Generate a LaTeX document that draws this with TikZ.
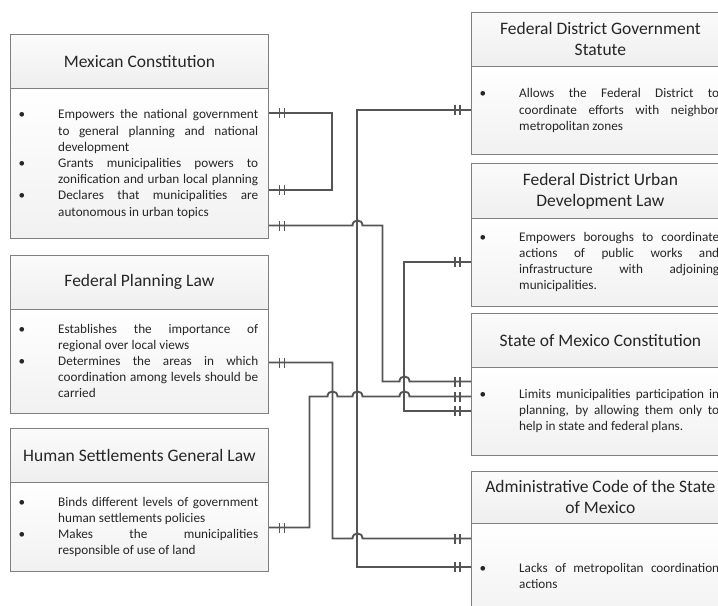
\documentclass[tikz,border=0pt]{standalone}
\usepackage{fontspec}
\setmainfont{Carlito}
\usetikzlibrary{decorations.markings}
\definecolor{linec}{HTML}{555555}
\definecolor{boxc}{HTML}{808080}
\definecolor{txtc}{HTML}{262626}
\newcommand\Bj[1]{\hbox{\hbox to 48bp{\hskip 8.5bp\textbullet\hfil}\hbox to 200bp{#1}}}
\newcommand\Bl[1]{\hbox{\hbox to 48bp{\hskip 8.5bp\textbullet\hfil}\hbox to 200bp{#1\hfil}}}
\newcommand\Nj[1]{\hbox{\hskip 48bp\hbox to 200bp{#1}}}
\newcommand\Nl[1]{\hbox{\hskip 48bp\hbox to 200bp{#1\hfil}}}
\begin{document}
\begin{tikzpicture}[x=1bp,y=-1bp,
  hdr/.style={draw=boxc, line width=0.8bp, top color=gray!3, bottom color=gray!13,
    minimum width=258bp, inner sep=0pt, anchor=north west,
    font=\fontsize{17.5bp}{21bp}\selectfont, align=center, text=txtc},
  bodybox/.style={draw=boxc, line width=0.8bp, top color=white, bottom color=gray!11,
    minimum width=258bp, inner sep=0pt, anchor=north west},
  txt/.style={anchor=base west, inner sep=0pt, font=\fontsize{13.2bp}{16.2bp}\selectfont, text=txtc},
  tick/.style={draw=linec, line width=1.3bp},
  rel/.style={draw=linec, line width=1.5bp, postaction={decorate},
    decoration={markings,
      mark=at position 11bp with {\draw[tick] (0,-5bp) -- (0,5bp);},
      mark=at position 16bp with {\draw[tick] (0,-5bp) -- (0,5bp);},
      mark=at position -16bp with {\draw[tick] (0,-5bp) -- (0,5bp);},
      mark=at position -11bp with {\draw[tick] (0,-5bp) -- (0,5bp);}}},
  relc/.style={rel, line width=1.9bp}
]
\useasboundingbox (0,0) rectangle (718,606);
\clip (0,0) rectangle (718,606);

% ---------- left boxes ----------
\node[hdr, minimum height=54bp] (mch) at (10,34) {Mexican Constitution};
\node[bodybox, minimum height=150bp] (mc) at (10,88) {};
\node[txt] (mct) at (10,119) {\vtop{%
  \Bj{Empowers the national government}
  \Nj{to general planning and national}
  \Nl{development}
  \Bj{Grants municipalities powers to}
  \Nj{zonification and urban local planning}
  \Bj{Declares that municipalities are}
  \Nl{autonomous in urban topics}}};

\node[hdr, minimum height=54bp] (fplh) at (10,255) {Federal Planning Law};
\node[bodybox, minimum height=104bp] (fpl) at (10,309) {};
\node[txt] (fplt) at (10,333) {\vtop{%
  \Bj{Establishes the importance of}
  \Nl{regional over local views}
  \Bj{Determines the areas in which}
  \Nj{coordination among levels should be}
  \Nl{carried}}};

\node[hdr, minimum height=54bp] (hsh) at (10,428) {Human Settlements General Law};
\node[bodybox, minimum height=89bp] (hs) at (10,482) {};
\node[txt] (hst) at (10,506) {\vtop{%
  \Bj{Binds different levels of government}
  \Nl{human settlements policies}
  \Bj{Makes the municipalities}
  \Nl{responsible of use of land}}};

% ---------- right boxes ----------
\node[hdr, minimum height=54bp] (r1h) at (471,12) {Federal District Government\\Statute};
\node[bodybox, minimum height=88bp] (r1) at (471,66) {};
\node[txt] (r1t) at (471,98) {\vtop{%
  \Bj{Allows the Federal District to}
  \Nj{coordinate efforts with neighbor}
  \Nl{metropolitan zones}}};

\node[hdr, minimum height=55bp] (r2h) at (471,163) {Federal District Urban\\Development Law};
\node[bodybox, minimum height=88bp] (r2) at (471,218) {};
\node[txt] (r2t) at (471,241) {\vtop{%
  \Bj{Empowers boroughs to coordinate}
  \Nj{actions of public works and}
  \Nj{infrastructure with adjoining}
  \Nl{municipalities.}}};

\node[hdr, minimum height=54bp] (r3h) at (471,313) {State of Mexico Constitution};
\node[bodybox, minimum height=88bp] (r3) at (471,367) {};
\node[txt] (r3t) at (471,398) {\vtop{%
  \Bj{Limits municipalities participation in}
  \Nj{planning, by allowing them only to}
  \Nl{help in state and federal plans.}}};

\node[hdr, minimum height=52bp] (r4h) at (471,471) {Administrative Code of the State\\of Mexico};
\node[bodybox, minimum height=100bp] (r4) at (471,523) {};
\node[txt] (r4t) at (471,572) {\vtop{%
  \Bj{Lacks of metropolitan coordination}
  \Nl{actions}}};

% ---------- connectors ----------
% Mexican Constitution self loop
\draw[rel] (mc.east |- 0,113) -- (332,113) -- (332,190) -- (mc.east |- 0,190);
% Federal District Government Statute -- Administrative Code
\draw[rel] (r1.west |- 0,110) -- (357,110) -- (357,567) -- (r4.west |- 0,567);
% Federal District Urban Development Law -- State of Mexico Constitution
\draw[rel] (r2.west |- 0,262) -- (404,262) -- (404,411) -- (r3.west |- 0,411);
% Mexican Constitution -- State of Mexico Constitution
\draw[relc] (mc.east |- 0,225.5) -- (352.5,225.5) .. controls (352.5,218.8) and (362.5,218.8) .. (362.5,225.5)
  -- (382.5,225.5) -- (382.5,381.5) -- (399.5,381.5) .. controls (399.5,374.8) and (409.5,374.8) .. (409.5,381.5)
  -- (r3.west |- 0,381.5);
% Federal Planning Law -- Administrative Code
\draw[relc] (fpl.east |- 0,362.5) -- (332.5,362.5) -- (332.5,538.5) -- (352.5,538.5)
  .. controls (352.5,531.8) and (362.5,531.8) .. (362.5,538.5) -- (r4.west |- 0,538.5);
% Human Settlements -- State of Mexico Constitution
\draw[relc] (hs.east |- 0,527.5) -- (309.5,527.5) -- (309.5,396.5) -- (327.5,396.5)
  .. controls (327.5,389.8) and (337.5,389.8) .. (337.5,396.5) -- (352.5,396.5)
  .. controls (352.5,389.8) and (362.5,389.8) .. (362.5,396.5) -- (399.5,396.5)
  .. controls (399.5,389.8) and (409.5,389.8) .. (409.5,396.5) -- (r3.west |- 0,396.5);
\end{tikzpicture}
\end{document}
